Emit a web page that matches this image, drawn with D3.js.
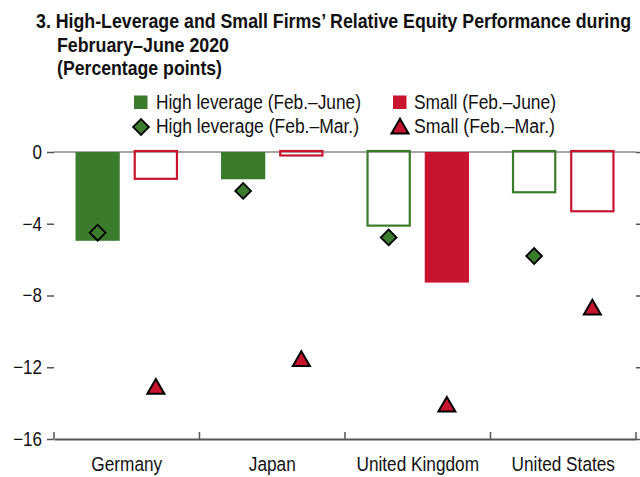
<!DOCTYPE html>
<html>
<head>
<meta charset="utf-8">
<script src="https://cdn.jsdelivr.net/npm/d3@7"></script>
<style>
  body { margin: 0; background: #fff; }
  text { font-family: "Liberation Sans", Arial, sans-serif; fill: #111; }
</style>
</head>
<body>
<div id="chart"></div>
<script>
// chart data
var countries = ["Germany", "Japan", "United Kingdom", "United States"];
var highLevJune = [-4.95, -1.52, -4.16, -2.3];
var smallJune = [-1.55, -0.25, -7.28, -3.36];
var highLevMar = [-4.5, -2.17, -4.76, -5.8];
var smallMar = [-13.2, -11.65, -14.2, -8.78];
// filled bar = solid, otherwise outline only
var highLevFilled = [true, true, false, false];
var smallFilled = [false, false, true, false];
var yTicks = [0, -4, -8, -12, -16];

var svgWidth = 640;
var svgHeight = 477;
var green = "#3a7b2c";
var red = "#c8142f";

var margin = { top: 152, right: 4, bottom: 38, left: 54 };
var width = svgWidth - margin.left - margin.right;
var height = svgHeight - margin.top - margin.bottom;

// squeeze a text like a narrow font
function narrow(sel, factor) {
  sel.each(function() {
    var w = this.getComputedTextLength();
    d3.select(this).attr("textLength", w * factor).attr("lengthAdjust", "spacingAndGlyphs");
  });
}

var svg = d3.select("#chart")
  .append("svg")
  .attr("width", svgWidth)
  .attr("height", svgHeight);

// title (small font stretched up to look like a tall condensed face)
var titleLines = [
  { text: "3. High-Leverage and Small Firms\u2019 Relative Equity Performance during", x: 36, y: 28, len: 595 },
  { text: "February\u2013June 2020", x: 57, y: 52, len: 172 },
  { text: "(Percentage points)", x: 57, y: 75, len: 165 }
];
svg.append("g").attr("font-weight", "bold").attr("font-size", "16px")
  .selectAll("text")
  .data(titleLines)
  .enter()
  .append("text")
  .attr("transform", d => `translate(${d.x}, ${d.y}) scale(1, 1.28)`)
  .attr("textLength", d => d.len)
  .attr("lengthAdjust", "spacingAndGlyphs")
  .text(d => d.text);

var chartGroup = svg.append("g")
  .attr("transform", `translate(${margin.left}, ${margin.top})`);

var x0 = d3.scaleBand().domain(countries).range([0, width]).padding(0);
var x1 = d3.scaleBand().domain(["hl", "sm"]).range([0, x0.bandwidth()])
  .paddingInner(0.24).paddingOuter(0.37);
var y = d3.scaleLinear().domain([-16, 0]).range([height, 0]);

// left ticks and labels
var leftAxis = d3.axisLeft(y).tickValues(yTicks).tickSize(7).tickPadding(5)
  .tickFormat(d => d === 0 ? "0" : "\u2212" + Math.abs(d));
var yAxis = chartGroup.append("g").call(leftAxis);
yAxis.select(".domain").remove();
yAxis.selectAll("line").attr("stroke", "#555").attr("stroke-width", 1.5);
yAxis.selectAll("text").attr("font-size", "20px").attr("fill", "#111")
  .attr("font-family", "Liberation Sans, Arial, sans-serif").call(narrow, 0.85);

// right ticks
var rightAxis = d3.axisRight(y).tickValues(yTicks).tickSize(5).tickFormat("");
var yAxisR = chartGroup.append("g").attr("transform", `translate(${width}, 0)`).call(rightAxis);
yAxisR.select(".domain").remove();
yAxisR.selectAll("line").attr("stroke", "#555").attr("stroke-width", 1.5);

// zero line
chartGroup.append("line")
  .attr("x1", 0).attr("x2", width)
  .attr("y1", y(0)).attr("y2", y(0))
  .attr("stroke", "#888").attr("stroke-width", 1.5);

// bars
function drawBars(values, filled, key, color) {
  chartGroup.append("g").selectAll("rect")
    .data(countries)
    .enter()
    .append("rect")
    .attr("x", (d, i) => x0(d) + x1(key) + (filled[i] ? 0 : 1))
    .attr("y", (d, i) => y(0) + (filled[i] ? 0 : -1))
    .attr("width", (d, i) => x1.bandwidth() - (filled[i] ? 0 : 2))
    .attr("height", (d, i) => y(values[i]) - y(0))
    .attr("fill", (d, i) => filled[i] ? color : "none")
    .attr("stroke", (d, i) => filled[i] ? "none" : color)
    .attr("stroke-width", 2.2);
}
drawBars(highLevJune, highLevFilled, "hl", green);
drawBars(smallJune, smallFilled, "sm", red);

// markers
var diamond = d3.symbol().type(d3.symbolSquare).size(125);
var triangle = d3.symbol().type(d3.symbolTriangle).size(125);

chartGroup.append("g").selectAll("path")
  .data(countries)
  .enter()
  .append("path")
  .attr("d", diamond)
  .attr("transform", (d, i) => `translate(${x0(d) + x1("hl") + x1.bandwidth() / 2}, ${y(highLevMar[i])}) rotate(45)`)
  .attr("fill", green).attr("stroke", "#000").attr("stroke-width", 1.8);

chartGroup.append("g").selectAll("path")
  .data(countries)
  .enter()
  .append("path")
  .attr("d", triangle)
  .attr("transform", (d, i) => `translate(${x0(d) + x1("sm") + x1.bandwidth() / 2}, ${y(smallMar[i])})`)
  .attr("fill", red).attr("stroke", "#000").attr("stroke-width", 2);

// bottom axis
var bottomAxis = d3.axisBottom(x0).tickSize(0).tickPadding(17);
var xAxis = chartGroup.append("g").attr("transform", `translate(0, ${height})`).call(bottomAxis);
xAxis.select(".domain").attr("stroke", "#555").attr("stroke-width", 2);
xAxis.selectAll("text").attr("font-size", "20.5px").attr("fill", "#111")
  .attr("font-family", "Liberation Sans, Arial, sans-serif").call(narrow, 0.84);
// category separators pointing up
var seps = countries.map(d => x0(d)).concat([width]);
xAxis.selectAll(".sep")
  .data(seps)
  .enter()
  .append("line")
  .attr("x1", d => d).attr("x2", d => d)
  .attr("y1", 0).attr("y2", -7)
  .attr("stroke", "#555").attr("stroke-width", 1.5);

// legend
var legend = svg.append("g").attr("font-size", "20px");
legend.append("rect").attr("x", 134).attr("y", 95.5).attr("width", 13.5).attr("height", 13.5).attr("fill", green);
legend.append("text").attr("x", 156).attr("y", 109).attr("textLength", 205).attr("lengthAdjust", "spacingAndGlyphs")
  .text("High leverage (Feb.\u2013June)");
legend.append("rect").attr("x", 393).attr("y", 95.5).attr("width", 13.5).attr("height", 13.5).attr("fill", red);
legend.append("text").attr("x", 414).attr("y", 109).attr("textLength", 142).attr("lengthAdjust", "spacingAndGlyphs")
  .text("Small (Feb.\u2013June)");
legend.append("path").attr("d", diamond)
  .attr("transform", "translate(141, 127) rotate(45)")
  .attr("fill", green).attr("stroke", "#000").attr("stroke-width", 1.8);
legend.append("text").attr("x", 156).attr("y", 133).attr("textLength", 203).attr("lengthAdjust", "spacingAndGlyphs")
  .text("High leverage (Feb.\u2013Mar.)");
legend.append("path").attr("d", triangle)
  .attr("transform", "translate(400, 128.5)")
  .attr("fill", red).attr("stroke", "#000").attr("stroke-width", 2);
legend.append("text").attr("x", 414).attr("y", 133).attr("textLength", 141).attr("lengthAdjust", "spacingAndGlyphs")
  .text("Small (Feb.\u2013Mar.)");
</script>
</body>
</html>
